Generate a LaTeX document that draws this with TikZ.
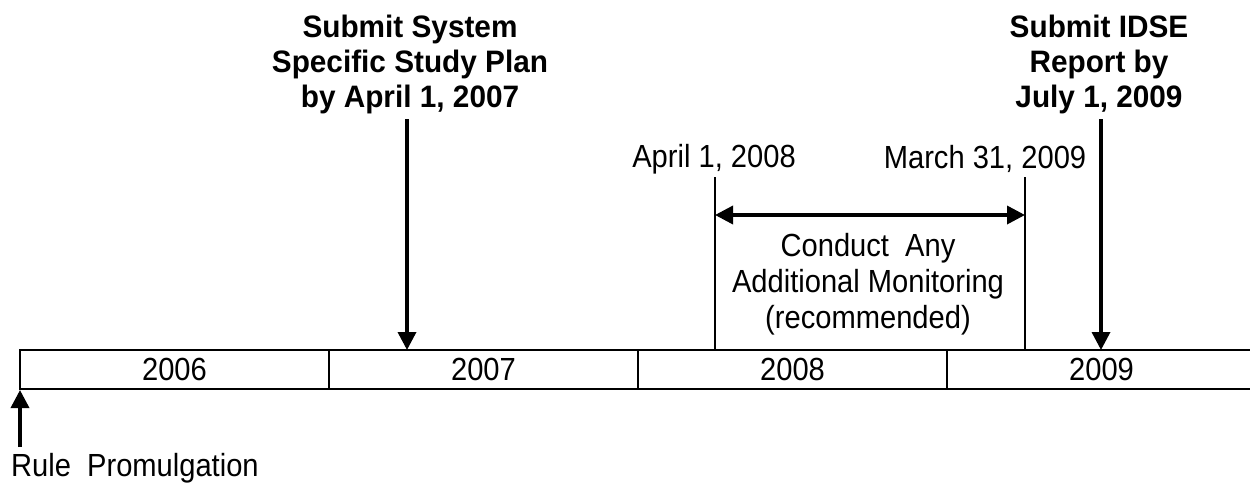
\documentclass[tikz,border=0pt]{standalone}
\usepackage{fontspec}
\setmainfont{Liberation Sans}
\newfontfamily\regfont[FakeStretch=0.91]{Liberation Sans}
\newfontfamily\boldfont[FakeStretch=0.96]{Liberation Sans Bold}
\usetikzlibrary{arrows.meta}
\begin{document}
\begin{tikzpicture}[x=1pt,y=-1pt,
  cell/.style={draw, line width=1.5pt, minimum width=309pt, minimum height=39pt, inner sep=0pt, font=\regfont\fontsize{32}{36}\selectfont},
  reg/.style={inner sep=0pt, align=center, font=\regfont\fontsize{32}{36}\selectfont},
  title/.style={inner sep=0pt, align=center, font=\boldfont\fontsize{31}{35}\selectfont},
  bigarrow/.style={line width=3.5pt, -{Triangle[width=18pt,length=18pt]}},
  dblarrow/.style={line width=3.5pt, {Triangle[width=18pt,length=18pt]}-{Triangle[width=18pt,length=18pt]}},
  thin/.style={line width=1.5pt}]
\clip (0,0) rectangle (1250,485);
\fill[white] (0,0) rectangle (1250,485);
% timeline cells
\node[cell] (c2006) at (174.5,369.5) {2006};
\node[cell] (c2007) at (483.5,369.5) {2007};
\node[cell] (c2008) at (792.5,369.5) {2008};
\node[cell] (c2009) at (1101.5,369.5) {2009};
% titles
\node[title] (t1) at (410,64) {Submit System\\Specific Study Plan\\by April 1, 2007};
\node[title] (t2) at (1099,64) {Submit IDSE\\Report by\\July 1, 2009};
\coordinate (s1) at (407,119);
\coordinate (e1) at (407,350);
\coordinate (s2) at (1101,119);
\coordinate (e2) at (1101,350);
\draw[bigarrow] (s1) -- (e1);
\draw[bigarrow] (s2) -- (e2);
% range
\node[reg] (d1) at (714,159) {April 1, 2008};
\node[reg] (d2) at (985,159) {March 31, 2009};
\coordinate (r1t) at (715,177);
\coordinate (r1b) at (715,350);
\coordinate (r2t) at (1025,177);
\coordinate (r2b) at (1025,350);
\draw[thin] (r1t) -- (r1b);
\draw[thin] (r2t) -- (r2b);
\coordinate (a1) at (715,215);
\coordinate (a2) at (1025,215);
\draw[dblarrow] (a1) -- (a2);
\node[reg] (mon) at (868,284) {Conduct\hspace{0.25em} Any\\Additional Monitoring\\(recommended)};
% rule promulgation
\coordinate (rp0) at (20,447);
\coordinate (rp1) at (20,390);
\draw[bigarrow] (rp0) -- (rp1);
\node[reg, anchor=west] (rp) at (11,468) {Rule\hspace{0.25em} Promulgation};
\end{tikzpicture}
\end{document}
